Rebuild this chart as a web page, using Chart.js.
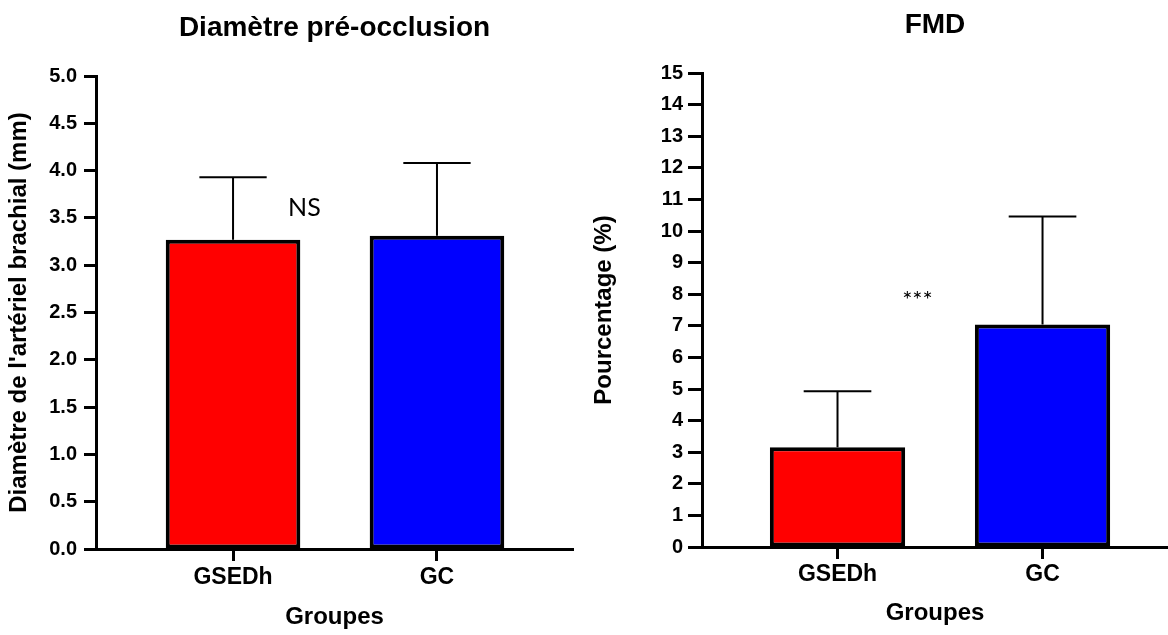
<!DOCTYPE html>
<html>
<head>
<meta charset="utf-8">
<script src="https://cdn.jsdelivr.net/npm/chart.js@4/dist/chart.umd.min.js"></script>
<style>
    html, body { margin: 0; padding: 0; background: #fff; }
    #wrap { position: relative; width: 1168px; height: 635px; }
    .box { position: absolute; top: 0; width: 584px; height: 635px; }
</style>
</head>
<body>
<div id="wrap">
    <div class="box" style="left:0"><canvas id="diameterChart"></canvas></div>
    <div class="box" style="left:584px"><canvas id="fmdChart"></canvas></div>
</div>
<script>
// data
const groups = ['GSEDh', 'GC'];
const barColors = ['#ff0000', '#0000ff'];

const diameterMean = [3.27, 3.31];
const diameterSd = [0.66, 0.77];
const diameterTicks = [0, 0.5, 1, 1.5, 2, 2.5, 3, 3.5, 4, 4.5, 5];

const fmdMean = [3.16, 7.04];
const fmdSd = [1.77, 3.42];
const fmdTicks = [0, 1, 2, 3, 4, 5, 6, 7, 8, 9, 10, 11, 12, 13, 14, 15];

const family = "'Liberation Sans', Arial, sans-serif";

function makeChart(id, cfg) {

    // error bars (upper only) + significance text
    const errorBars = {
        id: 'errorBars',
        afterDatasetsDraw(chart) {
            const { ctx, scales: { x, y } } = chart;
            const meta = chart.getDatasetMeta(0);
            ctx.save();
            ctx.strokeStyle = '#000';
            ctx.lineWidth = 2;
            cfg.mean.forEach((m, i) => {
                const bar = meta.data[i];
                const top = y.getPixelForValue(m + cfg.sd[i]);
                const half = bar.width / 4;
                ctx.beginPath();
                ctx.moveTo(bar.x, y.getPixelForValue(m));
                ctx.lineTo(bar.x, top);
                ctx.moveTo(bar.x - half, top);
                ctx.lineTo(bar.x + half, top);
                ctx.stroke();
            });
            ctx.fillStyle = '#000';
            ctx.font = cfg.noteFont;
            ctx.textAlign = 'center';
            ctx.textBaseline = 'middle';
            ctx.fillText(cfg.note, x.getPixelForValue(cfg.noteX), y.getPixelForValue(cfg.noteY));
            ctx.restore();
        }
    };

    const data = {
        datasets: [{
            data: cfg.mean.map((m, i) => ({ x: i, y: m })),
            backgroundColor: barColors,
            borderColor: '#000',
            borderWidth: 4,
            borderSkipped: false,
            barPercentage: 0.66,
            categoryPercentage: 1
        }]
    };

    const config = {
        type: 'bar',
        data: data,
        options: {
            responsive: true,
            maintainAspectRatio: false,
            animation: false,
            layout: { padding: { left: 0, right: cfg.padRight, top: 0, bottom: 0 } },
            plugins: {
                legend: { display: false },
                tooltip: { enabled: false },
                title: {
                    display: true,
                    fullSize: false,
                    text: cfg.title,
                    color: '#000',
                    font: { family: family, size: 28, weight: 'bold' },
                    padding: { top: cfg.titleTop, bottom: cfg.titleBottom }
                }
            },
            scales: {
                x: {
                    type: 'linear',
                    offset: false,
                    min: cfg.xMin,
                    max: cfg.xMax,
                    afterBuildTicks: axis => { axis.ticks = groups.map((g, i) => ({ value: i })); },
                    afterFit: axis => { axis.height = cfg.xHeight; },
                    ticks: {
                        callback: v => groups[v],
                        color: '#000',
                        font: { family: family, size: 23, weight: 'bold' },
                        padding: cfg.xTickPad,
                        maxRotation: 0,
                        autoSkip: false
                    },
                    grid: { offset: false, drawOnChartArea: false, tickLength: 12, tickWidth: 3, tickColor: '#000' },
                    border: { display: true, color: '#000', width: 3 },
                    title: {
                        display: true,
                        text: 'Groupes',
                        color: '#000',
                        font: { family: family, size: 24, weight: 'bold' },
                        padding: { top: 0, bottom: cfg.xTitleBottom }
                    }
                },
                y: {
                    min: 0,
                    max: cfg.ticks[cfg.ticks.length - 1],
                    afterBuildTicks: axis => { axis.ticks = cfg.ticks.map(v => ({ value: v })); },
                    afterFit: axis => { axis.width = cfg.yWidth; },
                    ticks: {
                        callback: cfg.format,
                        color: '#000',
                        font: { family: family, size: 20, weight: 'bold' },
                        padding: cfg.yTickPad
                    },
                    grid: { drawOnChartArea: false, tickLength: cfg.yTickLen, tickWidth: 3, tickColor: '#000' },
                    border: { display: true, color: '#000', width: 3 },
                    title: {
                        display: true,
                        text: cfg.yTitle,
                        color: '#000',
                        font: { family: family, size: 24, weight: 'bold' },
                        padding: { top: cfg.yTitleTop, bottom: 0 }
                    }
                }
            }
        },
        plugins: [errorBars]
    };

    return new Chart(document.getElementById(id), config);
}

makeChart('diameterChart', {
    title: 'Diamètre pré-occlusion',
    yTitle: "Diamètre de l'artériel brachial (mm)",
    mean: diameterMean,
    sd: diameterSd,
    ticks: diameterTicks,
    format: v => v.toFixed(1),
    note: 'NS',
    noteX: 0.35,
    noteY: 3.61,
    noteFont: "25px Lato, sans-serif",
    xMin: -0.672,
    xMax: 1.667,
    padRight: 11,
    yWidth: 96,
    xHeight: 86,
    titleTop: 11.2,
    titleBottom: 31.2,
    xTickPad: 3,
    xTitleBottom: 3,
    yTickLen: 12,
    yTickPad: 7,
    yTitleTop: 5
});

makeChart('fmdChart', {
    title: 'FMD',
    yTitle: 'Pourcentage (%)',
    mean: fmdMean,
    sd: fmdSd,
    ticks: fmdTicks,
    format: v => String(v),
    note: '***',
    noteX: 0.39,
    noteY: 7.8,
    noteFont: "24px Lato, sans-serif",
    xMin: -0.661,
    xMax: 1.612,
    padRight: 0,
    yWidth: 118,
    xHeight: 88,
    titleTop: 8.2,
    titleBottom: 31.2,
    xTickPad: 2,
    xTitleBottom: 7,
    yTickLen: 14,
    yTickPad: 5,
    yTitleTop: 6
});
</script>
</body>
</html>
